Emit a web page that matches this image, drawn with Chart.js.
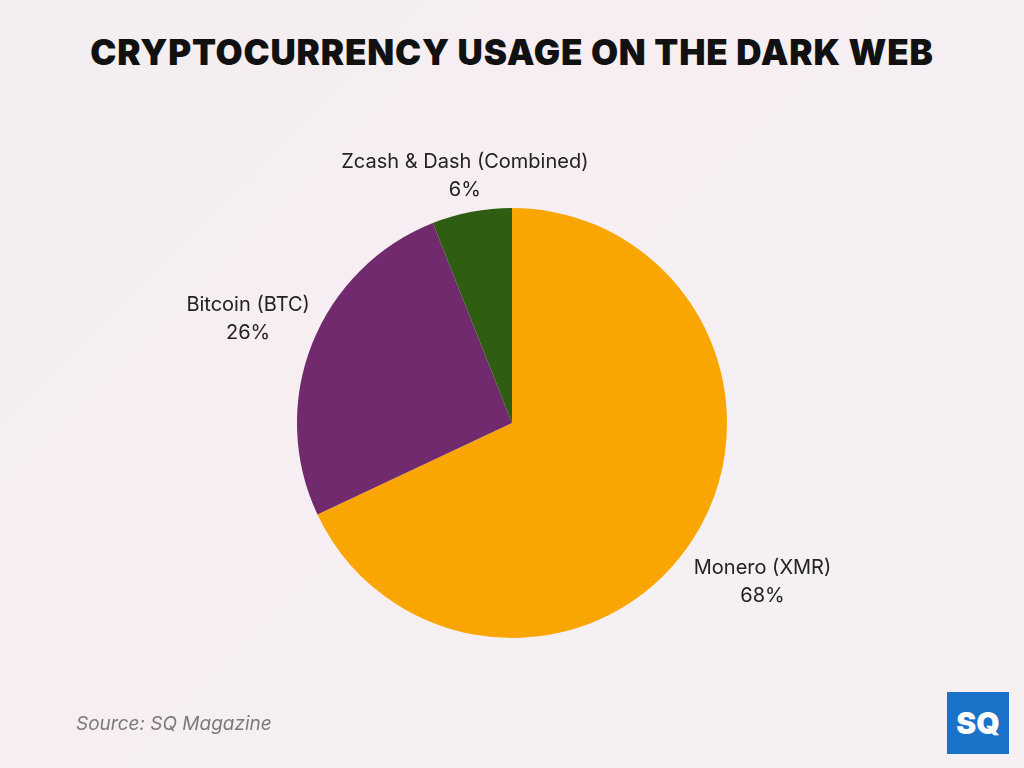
<!DOCTYPE html>
<html>
<head>
<meta charset="utf-8">
<script src="https://cdn.jsdelivr.net/npm/chart.js@4"></script>
<style>
  html, body { margin: 0; padding: 0; }
  body {
    width: 1024px; height: 768px; position: relative; overflow: hidden;
    background: linear-gradient(135deg, #f2eef0 0%, #f7eef2 40%, #f4f0f3 70%, #f7f0f3 100%);
    font-family: Inter, "Open Sans", sans-serif;
  }
  #title {
    position: absolute; top: 31px; left: 0; width: 1024px; text-align: center;
    font-size: 35px; font-weight: 900; letter-spacing: 0.8px; color: #111;
  }
  #wrap { position: absolute; left: 0; top: 0; width: 1024px; height: 768px; }
  #source {
    position: absolute; left: 76px; top: 712px; font-size: 19px; font-style: italic; color: #7a7a7a;
  }
  #logo {
    position: absolute; left: 947px; top: 692px; width: 62px; height: 62px; background: #1a73c8;
    color: #fff; font-weight: 900; font-size: 30px; line-height: 62px; text-align: center;
  }
</style>
</head>
<body>
<div id="title">CRYPTOCURRENCY USAGE ON THE DARK WEB</div>
<div id="wrap"><canvas id="pie"></canvas></div>
<div id="source">Source: SQ Magazine</div>
<div id="logo">SQ</div>
<script>
// Datos del gráfico
const categories = ['Monero (XMR)', 'Bitcoin (BTC)', 'Zcash & Dash (Combined)'];
const shares = [68, 26, 6];
const colors = ['#f9a602', '#722a6e', '#2f5d12'];
const labelDistance = [1.38, 1.32, 1.17];

// Etiquetas fuera del pastel
const outsideLabels = {
    id: 'outsideLabels',
    afterDatasetsDraw(chart) {
        const ctx = chart.ctx;
        const meta = chart.getDatasetMeta(0);
        ctx.save();
        ctx.font = '20px Inter, "Open Sans", sans-serif';
        ctx.fillStyle = '#222';
        ctx.textAlign = 'center';
        ctx.textBaseline = 'middle';
        meta.data.forEach(function (arc, i) {
            const mid = (arc.startAngle + arc.endAngle) / 2;
            const r = arc.outerRadius * labelDistance[i];
            const x = arc.x + Math.cos(mid) * r;
            const y = arc.y + Math.sin(mid) * r;
            ctx.fillText(categories[i], x, y - 14);
            ctx.fillText(shares[i] + '%', x, y + 14);
        });
        ctx.restore();
    }
};

new Chart(document.getElementById('pie'), {
    type: 'pie',
    data: {
        labels: categories,
        datasets: [{ data: shares, backgroundColor: colors, borderWidth: 0 }]
    },
    options: {
        responsive: true,
        maintainAspectRatio: false,
        animation: false,
        layout: { padding: { top: 208, bottom: 130 } },
        plugins: { legend: { display: false }, tooltip: { enabled: false } }
    },
    plugins: [outsideLabels]
});
</script>
</body>
</html>
